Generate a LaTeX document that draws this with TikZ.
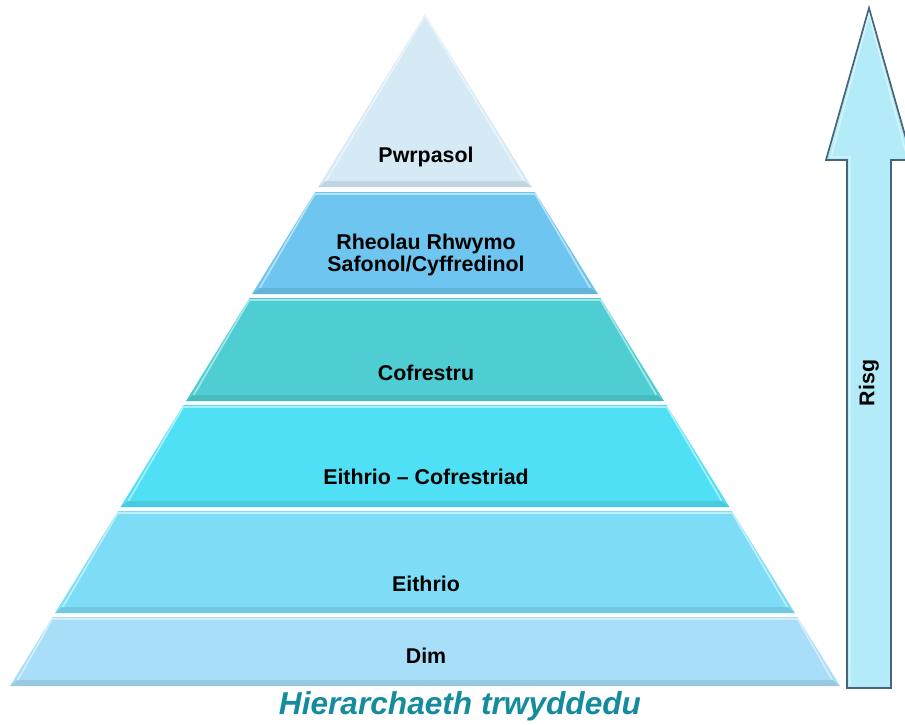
\documentclass[tikz,border=0pt]{standalone}
\usepackage{fontspec}
\setsansfont{Liberation Sans}
\def\slope{0.6176}
\definecolor{pwcol}{RGB}{214,234,246}
\definecolor{rhcol}{RGB}{110,197,239}
\definecolor{cocol}{RGB}{78,206,210}
\definecolor{eccol}{RGB}{80,224,245}
\definecolor{eicol}{RGB}{126,221,246}
\definecolor{dicol}{RGB}{168,222,248}
\definecolor{arrowcol}{RGB}{180,235,248}
\definecolor{arrowline}{RGB}{72,100,120}
\definecolor{captcol}{RGB}{20,140,158}

\begin{document}
\begin{tikzpicture}[x=0.025cm, y=-0.025cm]
      \tikzstyle{layer label}=[font=\sffamily\bfseries\fontsize{15.2}{15.8}\selectfont, align=center, text=black]
      \tikzstyle{caption}=[font=\sffamily\bfseries\itshape\fontsize{22.5}{26}\selectfont, text=captcol]
      \clip (0,0) rectangle (905,724);

      % Draw the layers of the pyramid, top to bottom
      \foreach \name/\top/\bot/\col in {pw/14/187/pwcol, rh/192/294/rhcol, co/298/401/cocol,
                                        ec/405/507/eccol, ei/511/613/eicol, di/617/686/dicol}
      {
          \path[fill=\col] ({425-\slope*(\top-14)},\top) -- ({425+\slope*(\top-14)},\top)
              -- ({425+\slope*(\bot-14)},\bot) -- ({425-\slope*(\bot-14)},\bot) -- cycle;
          % bevel: darker strip at the bottom, lighter edges
          \path[fill=\col!70!black, opacity=0.3] ({425-\slope*(\bot-20)+4},\bot-6) -- ({425+\slope*(\bot-20)-4},\bot-6)
              -- ({425+\slope*(\bot-14)},\bot) -- ({425-\slope*(\bot-14)},\bot) -- cycle;
          \draw[white, opacity=0.5, line width=1.2pt] ({425-\slope*(\bot-20)+4},\bot-6)
              -- ({425-\slope*(\top-12)+1},\top+2) -- ({425+\slope*(\top-12)-1},\top+2)
              -- ({425+\slope*(\bot-20)-4},\bot-6);
      }

      % Label the layers
      \node[layer label] (pwrpasol) at (426,157) {Pwrpasol};
      \node[layer label] (rheolau) at (426,255) {Rheolau Rhwymo\\Safonol/Cyffredinol};
      \node[layer label] (cofrestru) at (426,373) {Cofrestru};
      \node[layer label] (eithriocof) at (426,477) {Eithrio -- Cofrestriad};
      \node[layer label] (eithrio) at (426,584) {Eithrio};
      \node[layer label] (dim) at (426,656) {Dim};

      % The risk arrow
      \path[fill=arrowcol, draw=arrowline, line width=1.2pt, line join=miter]
          (847,688) -- (847,160) -- (826,160) -- (869,8) -- (912,160) -- (891,160) -- (891,688) -- cycle;
      \draw[white, opacity=0.5, line width=1pt] (850,685) -- (850,157) -- (831,157) -- (869,14) -- (907,157);
      \node[layer label, rotate=90] (risg) at (869,383) {Risg};

      % Caption
      \node[caption] (hier) at (460,706) {Hierarchaeth trwyddedu};
\end{tikzpicture}
\end{document}
